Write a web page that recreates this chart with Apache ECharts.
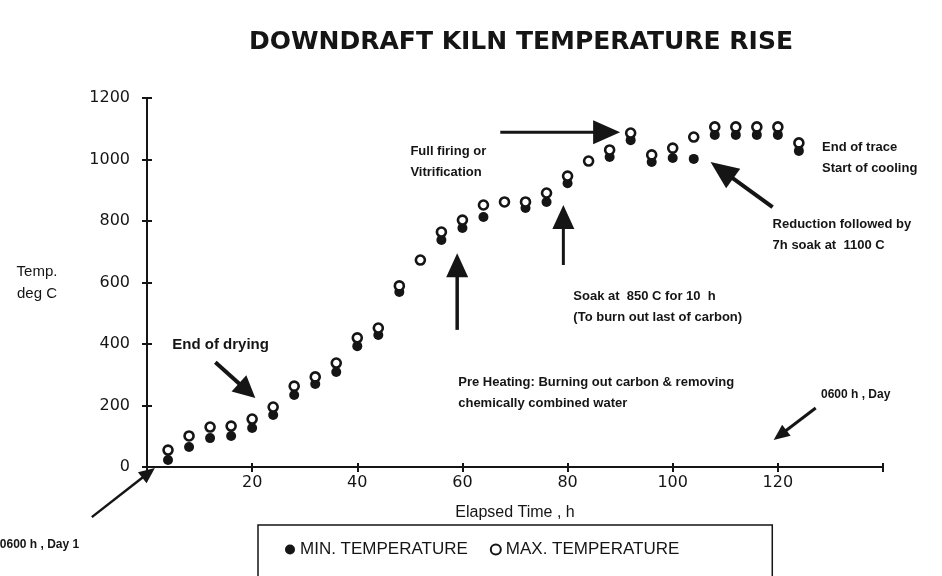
<!DOCTYPE html>
<html>
<head>
<meta charset="utf-8">
<style>
  html, body { margin: 0; padding: 0; background: #fff; }
  #chart { width: 942px; height: 576px; }
</style>
<script src="https://cdn.jsdelivr.net/npm/echarts@6/dist/echarts.min.js"></script>
</head>
<body>
<div id="chart"></div>
<script>
// elapsed time (h) of each reading
const times = [4, 8, 12, 16, 20, 24, 28, 32, 36, 40, 44, 48, 52, 56, 60, 64, 68, 72, 76, 80, 84, 88, 92, 96, 100, 104, 108, 112, 116, 120, 124];
const maxTemp = [55, 101, 130, 133, 156, 195, 263, 293, 338, 420, 452, 589, 673, 764, 803, 852, 862, 862, 891, 946, 995, 1031, 1086, 1015, 1037, 1073, 1106, 1106, 1106, 1106, 1054];
const minTemp = [23, 65, 94, 101, 127, 169, 234, 270, 309, 393, 429, 569, null, 738, 777, 813, null, 842, 862, 923, null, 1008, 1063, 992, 1005, 1002, 1080, 1080, 1080, 1080, 1028];
const xTicks = [0, 20, 40, 60, 80, 100, 120, 140];
const yTicks = [0, 200, 400, 600, 800, 1000, 1200];

// notes on the plot, placed in data units [h, deg C]
const notes = [
  { text: "End of drying", at: [4.8, 397], size: 15 },
  { text: "0600 h , Day 1", at: [-28, -254], size: 12 },
  { text: "Pre Heating: Burning out carbon & removing\nchemically combined water", at: [59.2, 242], size: 13 },
  { text: "Soak at  850 C for 10  h\n(To burn out last of carbon)", at: [81.1, 522], size: 13 },
  { text: "Full firing or\nVitrification", at: [50.1, 993], size: 13 },
  { text: "Reduction followed by\n7h soak at  1100 C", at: [119, 756], size: 13 },
  { text: "End of trace\nStart of cooling", at: [128.4, 1006], size: 13 },
  { text: "0600 h , Day", at: [128.2, 234], size: 12 }
];
// arrows: tail -> tip, head length / width, shaft width
const arrows = [
  { from: [-10.5, -163], to: [1.5, -3], head: [16, 14], w: 2.5 },
  { from: [13, 341], to: [20.6, 224], head: [22, 22], w: 4 },
  { from: [59, 446], to: [59, 695], head: [24, 22], w: 3.5 },
  { from: [79.2, 657], to: [79.2, 852], head: [24, 22], w: 3 },
  { from: [67.2, 1089], to: [90, 1089], head: [27, 24], w: 3 },
  { from: [119, 845], to: [107.2, 992], head: [28, 24], w: 4 },
  { from: [127.2, 192], to: [119.2, 88], head: [16, 14], w: 3 }
];

const ink = "#151515";
const chart = echarts.init(document.getElementById("chart"));

const axisFont = { color: ink, fontSize: 16, fontFamily: "DejaVu Sans" };

let option = {
  animation: false,
  backgroundColor: "#fff",
  title: {
    text: "DOWNDRAFT KILN TEMPERATURE RISE",
    left: 516,
    textAlign: "center",
    top: 25,
    textStyle: { color: ink, fontSize: 25, fontWeight: "bold", fontFamily: "DejaVu Sans" }
  },
  grid: { left: 147, right: 59, top: 98, bottom: 109 },
  legend: {
    left: 258,
    top: 525,
    padding: [16, 93, 40, 27],
    itemGap: 22,
    itemWidth: 10,
    itemHeight: 10,
    borderColor: ink,
    borderWidth: 1.5,
    textStyle: { color: ink, fontSize: 17, fontFamily: "Liberation Sans" },
    data: ["MIN. TEMPERATURE", "MAX. TEMPERATURE"]
  },
  xAxis: [
    {
      type: "value",
      min: 0,
      max: 140,
      interval: 20,
      name: "Elapsed Time , h",
      nameLocation: "middle",
      nameGap: 38,
      nameTextStyle: { color: ink, fontSize: 16, fontFamily: "Liberation Sans" },
      splitLine: { show: false },
      axisLine: { lineStyle: { color: ink, width: 2 } },
      axisTick: { length: 5, lineStyle: { color: ink, width: 2 } },
      axisLabel: {
        margin: 8,
        ...axisFont,
        formatter: (v) => (v === 0 || v === 140 ? "" : String(v))
      }
    },
    {
      type: "value",
      min: 0,
      max: 140,
      interval: 20,
      position: "bottom",
      splitLine: { show: false },
      axisLine: { show: false },
      axisTick: { inside: true, length: 4, lineStyle: { color: ink, width: 2 } },
      axisLabel: { show: false }
    }
  ],
  yAxis: [
    {
      type: "value",
      min: 0,
      max: 1200,
      interval: 200,
      name: "Temp.\ndeg C",
      nameLocation: "middle",
      nameRotate: 0,
      nameGap: 110,
      nameTextStyle: { color: ink, fontSize: 15, fontFamily: "Liberation Sans", align: "center", lineHeight: 22, padding: [8, 0, 0, 0] },
      splitLine: { show: false },
      axisLine: { lineStyle: { color: ink, width: 2 } },
      axisTick: { length: 5, lineStyle: { color: ink, width: 2 } },
      axisLabel: { margin: 17, ...axisFont, formatter: (v) => String(v) }
    },
    {
      type: "value",
      min: 0,
      max: 1200,
      interval: 200,
      position: "left",
      splitLine: { show: false },
      axisLine: { show: false },
      axisTick: { inside: true, length: 5, lineStyle: { color: ink, width: 2 } },
      axisLabel: { show: false }
    }
  ],
  series: [
    {
      name: "MIN. TEMPERATURE",
      type: "scatter",
      symbol: "circle",
      symbolSize: 10,
      itemStyle: { color: ink, opacity: 1 },
      data: times.map((t, i) => [t, minTemp[i]]).filter((p) => p[1] !== null)
    },
    {
      name: "MAX. TEMPERATURE",
      type: "scatter",
      symbol: "circle",
      symbolSize: 9,
      itemStyle: { color: "#fff", borderColor: ink, borderWidth: 2.6, opacity: 1 },
      data: times.map((t, i) => [t, maxTemp[i]])
    }
  ]
};
chart.setOption(option);

// annotations: convert data units through the grid's own scales
function px(p) {
  return chart.convertToPixel({ gridIndex: 0 }, p);
}
const graphics = [];
arrows.forEach((a) => {
  const p0 = px(a.from);
  const p1 = px(a.to);
  const dx = p1[0] - p0[0];
  const dy = p1[1] - p0[1];
  const len = Math.sqrt(dx * dx + dy * dy);
  const ux = dx / len;
  const uy = dy / len;
  const bx = p1[0] - ux * a.head[0];
  const by = p1[1] - uy * a.head[0];
  const hw = a.head[1] / 2;
  graphics.push({
    type: "line",
    shape: { x1: p0[0], y1: p0[1], x2: bx + ux * 2, y2: by + uy * 2 },
    style: { stroke: ink, lineWidth: a.w }
  });
  graphics.push({
    type: "polygon",
    shape: { points: [[p1[0], p1[1]], [bx - uy * hw, by + ux * hw], [bx + uy * hw, by - ux * hw]] },
    style: { fill: ink }
  });
});
notes.forEach((n) => {
  const p = px(n.at);
  graphics.push({
    type: "text",
    x: p[0],
    y: p[1],
    style: {
      text: n.text,
      fill: ink,
      fontSize: n.size,
      fontWeight: "bold",
      fontFamily: "Liberation Sans",
      lineHeight: 21,
      align: "left",
      verticalAlign: "middle"
    }
  });
});
chart.setOption({ graphic: graphics });

window.addEventListener("resize", () => {
  chart && chart.resize();
});
</script>
</body>
</html>
